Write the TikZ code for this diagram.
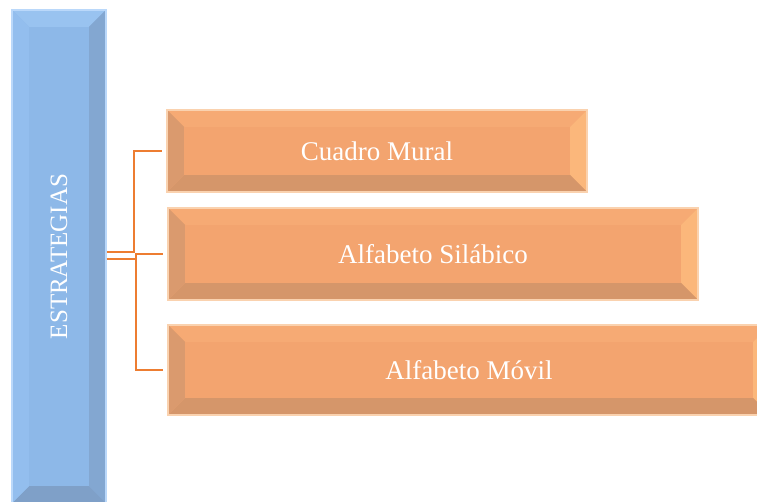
\documentclass[tikz,border=0pt]{standalone}
\usepackage{fontspec}
\setmainfont{Liberation Serif}
\usepackage{graphicx}

% --- Colours ---
\definecolor{blueface}{RGB}{141,184,232}
\definecolor{bluetop}{RGB}{153,195,240}
\definecolor{blueright}{RGB}{131,167,209}
\definecolor{bluebottom}{RGB}{127,160,200}
\definecolor{blueleft}{RGB}{147,190,238}
\definecolor{blueedge}{RGB}{186,216,250}
\definecolor{orangeface}{RGB}{243,164,111}
\definecolor{orangetop}{RGB}{246,170,116}
\definecolor{orangeright}{RGB}{251,183,123}
\definecolor{orangebottom}{RGB}{213,150,106}
\definecolor{orangeleft}{RGB}{218,154,110}
\definecolor{orangeedge}{RGB}{250,210,175}
\definecolor{linkorange}{RGB}{237,125,49}

\newcommand{\bv}{17pt}

\tikzset{
  bevelface/.style n args={5}{fill=#1, path picture={
      \coordinate (bnw) at (path picture bounding box.north west);
      \coordinate (bne) at (path picture bounding box.north east);
      \coordinate (bse) at (path picture bounding box.south east);
      \coordinate (bsw) at (path picture bounding box.south west);
      \coordinate (inw) at ([shift={(\bv,-\bv)}]bnw);
      \coordinate (ine) at ([shift={(-\bv,-\bv)}]bne);
      \coordinate (ise) at ([shift={(-\bv,\bv)}]bse);
      \coordinate (isw) at ([shift={(\bv,\bv)}]bsw);
      \fill[#2] (bnw) -- (bne) -- (ine) -- (inw) -- cycle;
      \fill[#3] (bne) -- (bse) -- (ise) -- (ine) -- cycle;
      \fill[#4] (bse) -- (bsw) -- (isw) -- (ise) -- cycle;
      \fill[#5] (bsw) -- (bnw) -- (inw) -- (isw) -- cycle;
      \fill[#1] (inw) -- (ine) -- (ise) -- (isw) -- cycle;
    }},
  rootbox/.style={rectangle, inner sep=0pt, draw=blueedge, line width=1.5pt,
    bevelface={blueface}{bluetop}{blueright}{bluebottom}{blueleft},
    text=white, font=\fontsize{25}{30}\selectfont},
  itembox/.style={rectangle, inner sep=0pt, draw=orangeedge, line width=1.5pt,
    bevelface={orangeface}{orangetop}{orangeright}{orangebottom}{orangeleft},
    text=white, font=\fontsize{27}{32}\selectfont},
  link/.style={draw=linkorange, line width=2pt, shorten >=4pt}
}

\begin{document}
\begin{tikzpicture}[x=1pt, y=-1pt]

    % --- Frame ---
    \useasboundingbox (0,0) rectangle (757,502);

    % --- Root box ---
    \node[rootbox, minimum width=94pt, minimum height=493pt]
      (estrategias) at (59,256.5) {\rotatebox{90}{ESTRATEGIAS}};

    % --- Strategy boxes ---
    \node[itembox, minimum width=420pt, minimum height=82pt]
      (cuadro) at (377,151) {Cuadro Mural};
    \node[itembox, minimum width=530pt, minimum height=92pt]
      (silabico) at (433,254) {Alfabeto Silábico};
    \node[itembox, minimum width=602pt, minimum height=90pt]
      (movil) at (469,370) {Alfabeto Móvil};

    % --- Connectors ---
    \draw[link] ([yshift=4.5pt]estrategias.east) -- ++(27,0) |- (cuadro.west);
    \draw[link] ([yshift=-2.5pt]estrategias.east) -- ++(29,0) |- (silabico.west);
    \draw[link] ([yshift=-2.5pt]estrategias.east) -- ++(29,0) |- (movil.west);

\end{tikzpicture}
\end{document}
